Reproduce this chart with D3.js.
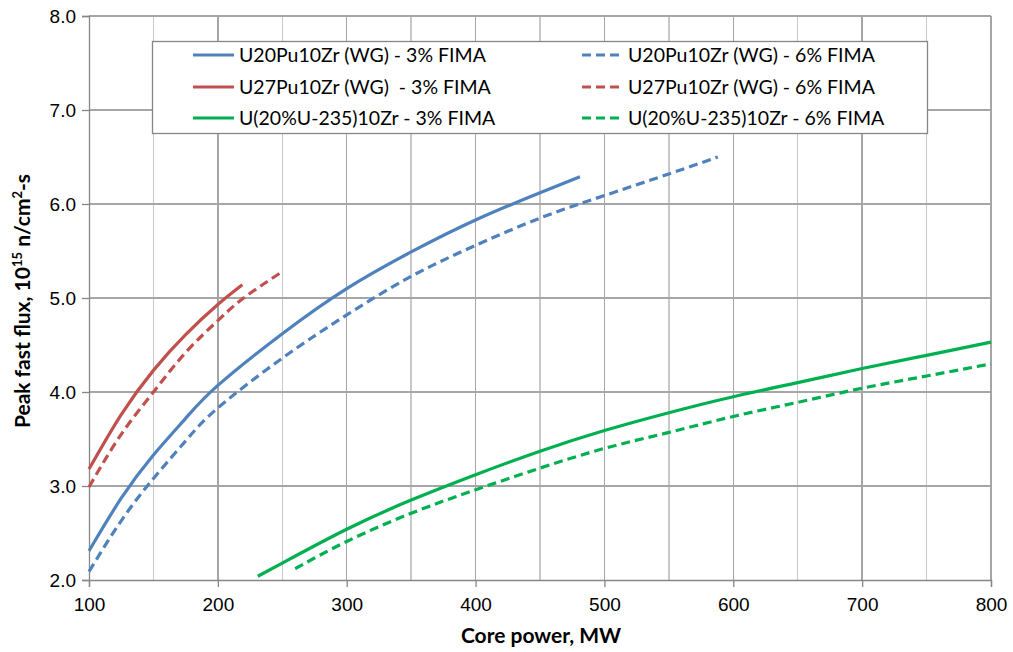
<!DOCTYPE html>
<html>
<head>
<meta charset="utf-8">
<script src="https://cdn.jsdelivr.net/npm/d3@7"></script>
<style>
  body { margin: 0; background: #fff; }
  svg { font-family: Lato, "Open Sans", sans-serif; }
  .tick-label { font-size: 19px; fill: #000; }
  .axis-title { font-size: 21px; font-weight: bold; fill: #000; }
  .legend-text { font-size: 19.5px; fill: #000; }
</style>
</head>
<body>
<div id="chart"></div>
<script>
// core power (MW) / peak fast flux (1e15 n/cm2-s)
var u20_3_power = [100, 125, 150, 175, 200, 250, 300, 350, 400, 450, 481];
var u20_3_flux  = [2.31, 2.87, 3.33, 3.72, 4.07, 4.62, 5.10, 5.49, 5.83, 6.12, 6.29];

var u20_6_power = [100, 125, 150, 175, 200, 250, 300, 350, 400, 450, 500, 550, 588];
var u20_6_flux  = [2.09, 2.63, 3.08, 3.48, 3.83, 4.36, 4.82, 5.23, 5.56, 5.85, 6.09, 6.32, 6.50];

var u27_3_power = [100, 125, 150, 175, 200, 219];
var u27_3_flux  = [3.18, 3.76, 4.23, 4.61, 4.93, 5.14];

var u27_6_power = [100, 125, 150, 175, 200, 220, 250];
var u27_6_flux  = [2.99, 3.55, 4.0, 4.42, 4.76, 5.0, 5.28];

var heu_3_power = [231, 250, 300, 350, 400, 450, 500, 550, 600, 650, 700, 750, 800];
var heu_3_flux  = [2.04, 2.18, 2.54, 2.85, 3.12, 3.37, 3.59, 3.78, 3.95, 4.10, 4.25, 4.39, 4.53];

var heu_6_power = [260, 300, 350, 400, 450, 500, 550, 600, 650, 700, 750, 800];
var heu_6_flux  = [2.12, 2.41, 2.71, 2.96, 3.19, 3.40, 3.57, 3.74, 3.89, 4.04, 4.17, 4.30];

var xTicks = [100, 200, 300, 400, 500, 600, 700, 800];
var yTicks = [2, 3, 4, 5, 6, 7, 8];

var series = [
  { name: "U20Pu10Zr (WG) - 3% FIMA",      x: u20_3_power, y: u20_3_flux, color: "#4f81bd", dash: null },
  { name: "U20Pu10Zr (WG) - 6% FIMA",      x: u20_6_power, y: u20_6_flux, color: "#4f81bd", dash: "9,5" },
  { name: "U27Pu10Zr (WG)  - 3% FIMA",     x: u27_3_power, y: u27_3_flux, color: "#c0504d", dash: null },
  { name: "U27Pu10Zr (WG) - 6% FIMA",      x: u27_6_power, y: u27_6_flux, color: "#c0504d", dash: "9,5" },
  { name: "U(20%U-235)10Zr - 3% FIMA",     x: heu_3_power, y: heu_3_flux, color: "#00b050", dash: null },
  { name: "U(20%U-235)10Zr - 6% FIMA",     x: heu_6_power, y: heu_6_flux, color: "#00b050", dash: "9,5" }
];

var W = 1013, H = 652;
var plot = { left: 89, right: 991, top: 16, bottom: 580 };

var svg = d3.select("#chart").append("svg")
  .attr("width", W)
  .attr("height", H);

var x = d3.scaleLinear().domain([100, 800]).range([plot.left, plot.right]);
var y = d3.scaleLinear().domain([2, 8]).range([plot.bottom, plot.top]);

// grid: vertical every 50 MW, horizontal every 1.0
var grid = svg.append("g").attr("class", "grid");
grid.selectAll("line.v")
  .data(d3.range(150, 801, 50))
  .join("line")
  .attr("x1", d => x(d)).attr("x2", d => x(d))
  .attr("y1", plot.top).attr("y2", plot.bottom)
  .attr("stroke", d => d % 100 === 0 ? "#a6a6a6" : "#c8c8c8")
  .attr("stroke-width", 1.3)
  .attr("shape-rendering", "crispEdges");
grid.selectAll("line.h")
  .data(yTicks.slice(1))
  .join("line")
  .attr("x1", plot.left).attr("x2", plot.right)
  .attr("y1", d => y(d)).attr("y2", d => y(d))
  .attr("stroke", "#a6a6a6")
  .attr("stroke-width", 1.3)
  .attr("shape-rendering", "crispEdges");

// axes
var xAxis = d3.axisBottom(x).tickValues(xTicks).tickSize(7).tickFormat(d3.format("d"));
var yAxis = d3.axisLeft(y).tickValues(yTicks).tickSize(7).tickFormat(d3.format(".1f"));

var gx = svg.append("g")
  .attr("transform", "translate(0," + plot.bottom + ")")
  .call(xAxis);
var gy = svg.append("g")
  .attr("transform", "translate(" + plot.left + ",0)")
  .call(yAxis);

[gx, gy].forEach(function(g) {
  g.select(".domain").attr("stroke", "#868686").attr("stroke-width", 1.3);
  g.selectAll(".tick line").attr("stroke", "#868686").attr("stroke-width", 1.3);
  g.selectAll(".tick text").attr("class", "tick-label").attr("font-family", null).attr("font-size", null);
});
gx.selectAll(".tick text").attr("dy", null).attr("y", 31);
gy.selectAll(".tick text").attr("x", -13).attr("dy", "0.35em");

// lines (natural spline keeps the curves smooth like the original)
var line = d3.line()
  .x(d => x(d[0]))
  .y(d => y(d[1]))
  .curve(d3.curveNatural);

svg.append("g").selectAll("path")
  .data(series)
  .join("path")
  .attr("d", s => line(s.x.map((v, i) => [v, s.y[i]])))
  .attr("fill", "none")
  .attr("stroke", s => s.color)
  .attr("stroke-width", 3.2)
  .attr("stroke-dasharray", s => s.dash);

// axis titles
svg.append("text")
  .attr("class", "axis-title")
  .attr("x", 541)
  .attr("y", 643)
  .attr("text-anchor", "middle")
  .text("Core power, MW");

var yt = svg.append("text")
  .attr("class", "axis-title")
  .attr("text-anchor", "middle")
  .attr("transform", "translate(30,301) rotate(-90)");
yt.append("tspan").text("Peak fast flux, 10");
yt.append("tspan").attr("font-size", "13px").attr("dy", -8).text("15");
yt.append("tspan").attr("dy", 8).text(" n/cm");
yt.append("tspan").attr("font-size", "13px").attr("dy", -8).text("2");
yt.append("tspan").attr("dy", 8).text("-s");

// legend
var lg = svg.append("g").attr("class", "legend");
lg.append("rect")
  .attr("x", 152.5).attr("y", 41.5)
  .attr("width", 775).attr("height", 92)
  .attr("fill", "#fff")
  .attr("stroke", "#868686")
  .attr("stroke-width", 1.3);

var rowY = [55, 87, 118];
var colX = [193, 582];
var items = lg.selectAll("g.item")
  .data(series)
  .join("g")
  .attr("transform", (d, i) => "translate(" + colX[i % 2] + "," + rowY[Math.floor(i / 2)] + ")");
items.append("line")
  .attr("x1", 0).attr("x2", 41)
  .attr("y1", 0).attr("y2", 0)
  .attr("stroke", d => d.color)
  .attr("stroke-width", 3.2)
  .attr("stroke-dasharray", d => d.dash);
items.append("text")
  .attr("class", "legend-text")
  .attr("x", 46)
  .attr("dy", "0.36em")
  .attr("xml:space", "preserve")
  .text(d => d.name);
</script>
</body>
</html>
